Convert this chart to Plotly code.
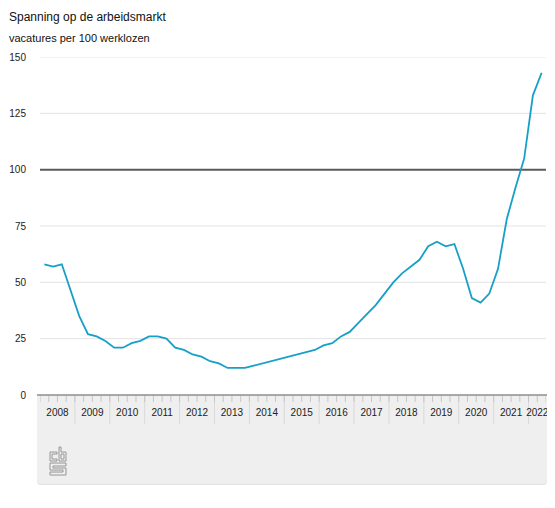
import plotly.graph_objects as go

# ---------------- data ----------------
title = "Spanning op de arbeidsmarkt"
subtitle = "vacatures per 100 werklozen"
years = list(range(2008, 2023))
values = [
    58, 57, 58, 47,    # 2008
    35, 27, 26, 24,    # 2009
    21, 21, 23, 24,    # 2010
    26, 26, 25, 21,    # 2011
    20, 18, 17, 15,    # 2012
    14, 12, 12, 12,    # 2013
    13, 14, 15, 16,    # 2014
    17, 18, 19, 20,    # 2015
    22, 23, 26, 28,    # 2016
    32, 36, 40, 45,    # 2017
    50, 54, 57, 60,    # 2018
    66, 68, 66, 67,    # 2019
    56, 43, 41, 45,    # 2020
    56, 78, 92, 105,   # 2021
    133, 143,          # 2022
]
y_tick_values = [0, 25, 50, 75, 100, 125, 150]
reference_level = 100

# ---------------- geometry ----------------
# the page body has an 8px default margin, so the figure is drawn from (8, 8);
# keep the page inside the window so no scrollbars appear
OFF = 8
W, H = 555 - 2 * OFF, 508 - 2 * OFF
PL, PR, PT, PB = 40, 545.7, 57.3, 395      # plot area in screen pixels
ML, MR, MT, MB = PL - OFF, (W + OFF) - PR, PT - OFF, (H + OFF) - PB
PW, PH = PR - PL, PB - PT

def px_x(X):          # screen x -> paper
    return (X - PL) / PW

def px_y(Y):          # screen y -> paper
    return (PB - Y) / PH

start = years[0]
x_vals = [start + (i + 0.5) / 4 for i in range(len(values))]
x_end = start + len(values) / 4
label_pos = [(y + min(y + 1, x_end)) / 2 for y in years]

LINE = "#16a0c8"
shapes = []

# grey axis box with rounded bottom corners
box = "M -3,0 L 507,0 L 507,-85 Q 507,-89 503,-89 L 1,-89 Q -3,-89 -3,-85 Z"
shadow = "M -3,0 L 507,0 L 507,-86 Q 507,-90 503,-90 L 1,-90 Q -3,-90 -3,-86 Z"
for p, c in [(shadow, "#e2e2e2"), (box, "#efefef")]:
    shapes.append(dict(type="path", xref="paper", yref="paper", xsizemode="pixel",
                       ysizemode="pixel", xanchor=0, yanchor=0, path=p,
                       fillcolor=c, line=dict(width=0), layer="below"))

# horizontal gridlines (the reference level gets its own dark line)
for v in y_tick_values:
    if v in (0, reference_level):
        continue
    shapes.append(dict(type="line", xref="paper", yref="y", x0=0, x1=1, y0=v, y1=v,
                       line=dict(color="#e3e3e3", width=1), layer="below"))

# quarter ticks and year dividers
for i in range(len(values) + 1):
    q = start + i / 4
    is_year = (i % 4 == 0)
    if is_year and start < q < x_end:
        shapes.append(dict(type="line", xref="x", yref="paper", ysizemode="pixel",
                           yanchor=0, x0=q, x1=q, y0=0, y1=-29,
                           line=dict(color="#d9d9d9", width=1), layer="below"))
    shapes.append(dict(type="line", xref="x", yref="paper", ysizemode="pixel",
                       yanchor=0, x0=q, x1=q, y0=0, y1=-7,
                       line=dict(color="#c6c6c6", width=1), layer="below"))

# axis base line
shapes.append(dict(type="line", xref="paper", yref="paper", x0=px_x(37), x1=px_x(547),
                   y0=0, y1=0, line=dict(color="#8e8e8e", width=1.5), layer="above"))

# reference line at 100
shapes.append(dict(type="line", xref="paper", yref="y", x0=0, x1=1,
                   y0=reference_level, y1=reference_level,
                   line=dict(color="#5a5a5a", width=2), layer="between"))

# CBS logo (outline)
logo = ("M 7,-5 H 0 V -14 H 7 V -12 H 2 V -7 H 7 Z "
        "M 9,0 H 11 V -5 H 16 V -14 H 9 Z M 11,-7 H 14 V -12 H 11 Z "
        "M 0,-16 H 16 V -19 H 3 V -21 H 16 V -28 H 0 V -25 H 13 V -23 H 0 Z")
shapes.append(dict(type="path", xref="paper", yref="paper", xsizemode="pixel",
                   ysizemode="pixel", xanchor=px_x(50), yanchor=px_y(447), path=logo,
                   line=dict(color="#959595", width=1), fillcolor="rgba(0,0,0,0)",
                   layer="above"))

fig = go.Figure()
fig.add_trace(go.Scatter(x=x_vals, y=values, mode="lines",
                         line=dict(color=LINE, width=1.8), hoverinfo="skip",
                         showlegend=False, cliponaxis=False))

FONT = "Liberation Sans, Arial, Helvetica, sans-serif"
fig.update_layout(
    width=W, height=H,
    margin=dict(l=ML, r=MR, t=MT, b=MB, pad=0, autoexpand=False),
    paper_bgcolor="white", plot_bgcolor="white",
    font=dict(family=FONT, size=10, color="#222"),
    showlegend=False,
    shapes=shapes,
    xaxis=dict(range=[start, x_end], tickmode="array", tickvals=label_pos,
               ticktext=[str(y) for y in years], ticks="", showgrid=False,
               zeroline=False, showline=False, ticklabelstandoff=10,
               ticklabeloverflow="allow",
               tickfont=dict(size=10, color="#222"), fixedrange=True,
               automargin=False),
    yaxis=dict(range=[0, 150], tickmode="array", tickvals=y_tick_values,
               ticks="", showgrid=False,
               zeroline=False, showline=False, ticklabelstandoff=13,
               tickfont=dict(size=10, color="#222"), fixedrange=True,
               automargin=False),
    annotations=[
        dict(text=title, xref="paper", yref="paper", x=px_x(7), y=px_y(17),
             xanchor="left", yanchor="middle", showarrow=False,
             font=dict(size=12, color="#111", family=FONT)),
        dict(text=subtitle, xref="paper", yref="paper", x=px_x(7), y=px_y(38.5),
             xanchor="left", yanchor="middle", showarrow=False,
             font=dict(size=11, color="#111", family=FONT)),
    ],
)

fig.write_html("out.html")
